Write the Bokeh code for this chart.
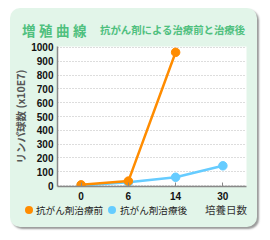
from bokeh.plotting import figure
from bokeh.models import Range1d, FactorRange, FixedTicker, Div
from bokeh.layouts import column
from bokeh.embed import file_html
from bokeh.resources import INLINE

days = ["0", "6", "14", "30"]
before_days = ["0", "6", "14"]
before = [5, 32, 965]
after = [0, 24, 60, 143]
y_ticks = [0, 100, 200, 300, 400, 500, 600, 700, 800, 900, 1000]

title_main = "増殖曲線"
title_sub = "抗がん剤による治療前と治療後"
y_label = "リンパ球数 (x10E7)"
x_label = "培養日数"
series_names = ["抗がん剤治療前", "抗がん剤治療後"]

ORANGE = "#ff8c00"
BLUE = "#66ccff"
GREEN = "#4fc07e"
CARD = "#e2f5e9"
JP = "Noto Sans CJK JP"

p = figure(width=247, height=162,
           x_range=FactorRange(*days, range_padding=0),
           y_range=Range1d(-7, 1007),
           output_backend="svg", toolbar_location=None,
           min_border_left=47, min_border_right=11, min_border_top=6, min_border_bottom=16,
           border_fill_color=CARD, background_fill_color="white",
           outline_line_color=None, margin=0)

p.xgrid.grid_line_color = None
p.ygrid.grid_line_color = "#bbbbbb"
p.ygrid.grid_line_dash = "1 2"
p.ygrid.ticker = FixedTicker(ticks=y_ticks)
p.yaxis.ticker = FixedTicker(ticks=y_ticks)

for ax in (p.xaxis, p.yaxis):
    ax.axis_line_color = "#888888"
    ax.axis_line_width = 1.5
    ax.major_label_text_font = "Liberation Sans"
    ax.major_label_text_font_style = "bold"
    ax.major_label_text_font_size = "10px"
    ax.major_label_text_color = "#111111"
    ax.minor_tick_line_color = None
p.yaxis.major_tick_line_color = None
p.yaxis.major_tick_in = 0
p.yaxis.major_tick_out = 0
p.yaxis.major_label_standoff = 4
p.yaxis.axis_label = y_label
p.yaxis.axis_label_text_font = JP
p.yaxis.axis_label_text_font_size = "10.5px"
p.yaxis.axis_label_text_font_style = "bold"
p.yaxis.axis_label_text_color = "#555555"
p.yaxis.axis_label_standoff = 0
p.xaxis.major_tick_in = 4
p.xaxis.major_tick_out = 0
p.xaxis.major_tick_line_color = "#888888"
p.xaxis.major_label_standoff = 5

p.line(days, after, line_color=BLUE, line_width=2.5)
p.scatter(days, after, size=8.5, fill_color=BLUE, line_color=BLUE)
p.line(before_days, before, line_color=ORANGE, line_width=2.5)
p.scatter(before_days, before, size=8.5, fill_color=ORANGE, line_color=ORANGE)

title_div = Div(width=247, height=32, margin=0, text=(
    '<div style="position:relative;width:247px;height:32px;">'
    f'<span style="position:absolute;left:12px;top:15px;line-height:14px;white-space:nowrap;'
    f'font-family:\'{JP}\';font-weight:bold;font-size:13.5px;letter-spacing:3.5px;color:{GREEN};">{title_main}</span>'
    f'<span style="position:absolute;left:90px;top:16px;line-height:12px;white-space:nowrap;'
    f'font-family:\'{JP}\';font-weight:bold;font-size:10.4px;color:{GREEN};">{title_sub}</span>'
    '</div>'))

def dot(left, color):
    return (f'<span style="position:absolute;left:{left}px;top:4px;width:8px;height:8px;'
            f'border-radius:50%;background:{color};"></span>')

def txt(left, s, size, color, weight="normal"):
    return (f'<span style="position:absolute;left:{left}px;top:2px;line-height:12px;white-space:nowrap;'
            f'font-family:\'{JP}\';font-size:{size};font-weight:{weight};color:{color};">{s}</span>')

legend_div = Div(width=247, height=25, margin=0, text=(
    '<div style="position:relative;width:247px;height:25px;">'
    + dot(14.5, ORANGE) + txt(26, series_names[0], "9.6px", "#222222")
    + dot(98, BLUE) + txt(110, series_names[1], "9.6px", "#222222")
    + txt(195, x_label, "10.5px", "#333333")
    + '</div>'))

layout = column(title_div, p, legend_div, width=247, height=219, spacing=0,
                margin=(8, 0, 0, 10),
                styles={"background-color": CARD, "border-radius": "10px",
                        "overflow": "hidden", "box-shadow": "2px 2px 2px #9a9a9a"})

open("out.html", "w").write(file_html(layout, INLINE))
